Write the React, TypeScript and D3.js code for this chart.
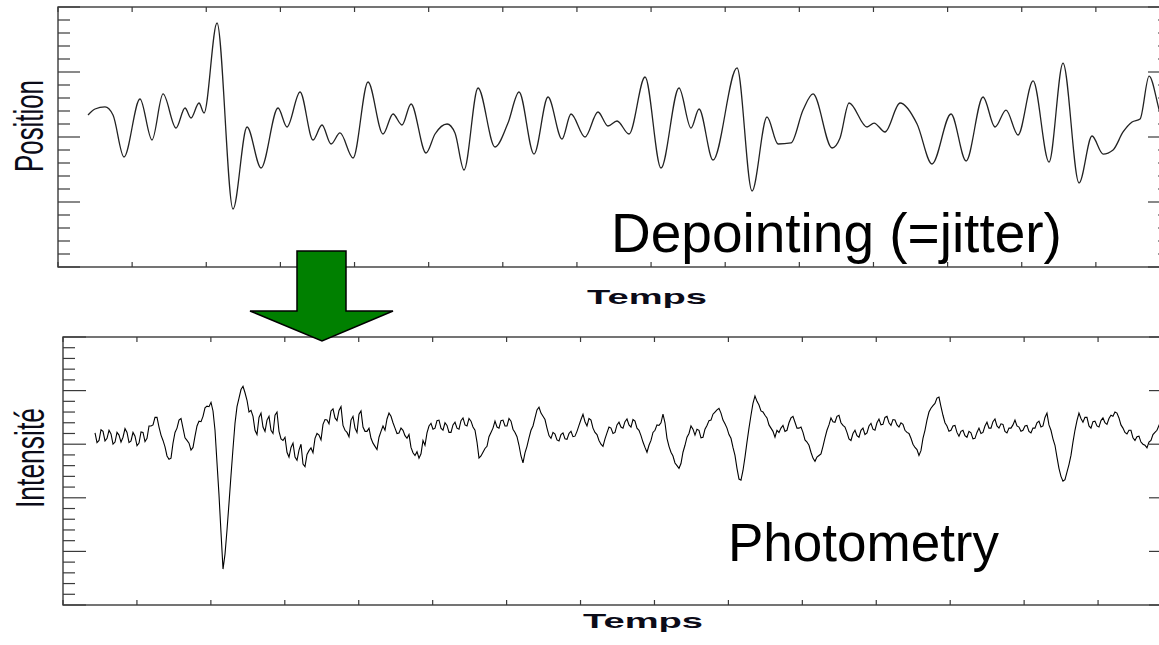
import React from "react";
import * as d3 from "d3";

// ---------- Data ----------
const TIME_DOMAIN: [number, number] = [0, 15];
const TIME_TICKS = d3.range(0, 16, 1);

// Depointing (position) — time and value
const POS_TIME = [
  0.405, 0.499, 0.634, 0.742, 0.89, 1.106, 1.268, 1.417, 1.592, 1.713, 1.794, 1.902, 1.97, 2.145, 2.361,
  2.55, 2.739, 2.968, 3.089, 3.265, 3.44, 3.561, 3.683, 3.804, 3.98, 4.182, 4.384, 4.519, 4.64, 4.762,
  4.964, 5.086, 5.248, 5.355, 5.477, 5.666, 5.895, 6.07, 6.219, 6.421, 6.61, 6.799, 6.92, 7.109, 7.284,
  7.419, 7.541, 7.703, 7.919, 8.134, 8.377, 8.539, 8.647, 8.836, 9.16, 9.362, 9.564, 9.713, 9.888, 10.05,
  10.185, 10.441, 10.549, 10.671, 10.913, 11.008, 11.156, 11.358, 11.588, 11.79, 12.046, 12.249, 12.478,
  12.64, 12.788, 12.95, 13.153, 13.368, 13.557, 13.773, 13.948, 14.097, 14.232, 14.367, 14.488, 14.596,
  14.718, 14.866, 14.974,
];
const POS_VALUE = [
  0.338, 0.431, 0.462, 0.338, -0.308, 0.585, -0.046, 0.662, 0.138, 0.446, 0.292, 0.523, 0.369, 1.754, -1.108,
  0.154, -0.477, 0.446, 0.154, 0.692, -0.046, 0.185, -0.108, 0.062, -0.323, 0.846, 0.046, 0.354, 0.185, 0.508,
  -0.246, 0.046, 0.2, 0.062, -0.508, 0.754, -0.154, 0.215, 0.692, -0.262, 0.615, -0.031, 0.354, 0.0, 0.385,
  0.169, 0.246, 0.046, 0.923, -0.477, 0.754, 0.138, 0.431, -0.354, 1.062, -0.831, 0.308, -0.108, -0.092, 0.415,
  0.662, -0.169, -0.015, 0.523, 0.154, 0.215, 0.077, 0.523, 0.2, -0.415, 0.354, -0.369, 0.615,
  0.154, 0.415, 0.031, 0.862, -0.385, 1.138, -0.708, 0.015, -0.262, -0.2, 0.077, 0.231, 0.277,
  0.938, 0.369, 0.031,
];

// Photometry (intensity) — uniformly sampled
const INT_START = 0.433;
const INT_STEP = 0.02705;
const INT_VALUE = [
  0.21, 0.03, 0.07, 0.27, 0.24, 0.06, 0.11, 0.26, 0.19, 0.0, 0.04, 0.22, 0.17, 0.04, 0.13, 0.29, 0.22, 0.03, 0.06, 0.22,
  0.15, -0.03, 0.02, 0.23, 0.22, 0.05, 0.11, 0.34, 0.34, 0.36, 0.5, 0.5, 0.32, 0.17, 0.07, -0.05, -0.22, -0.28, -0.26, 0.02,
  0.22, 0.3, 0.45, 0.48, 0.3, 0.12, 0.07, 0.02, -0.11, -0.06, 0.15, 0.34, 0.43, 0.42, 0.52, 0.68, 0.71, 0.7, 0.78, 0.62,
  0.26, -0.35, -0.95, -1.65, -2.33, -2.05, -1.6, -1.1, -0.58, -0.08, 0.39, 0.7, 0.86, 1.02, 1.08, 0.96, 0.82, 0.6, 0.63, 0.52,
  0.26, 0.18, 0.5, 0.58, 0.32, 0.24, 0.45, 0.52, 0.26, 0.2, 0.54, 0.6, 0.24, 0.1, 0.07, 0.13, -0.15, -0.24, -0.06, 0.02,
  -0.24, -0.3, -0.11, 0.0, -0.37, -0.42, -0.19, -0.12, -0.07, -0.16, 0.11, 0.2, 0.17, 0.08, 0.37, 0.46, 0.45, 0.38, 0.62, 0.66,
  0.49, 0.44, 0.63, 0.7, 0.35, 0.26, 0.22, 0.14, 0.45, 0.52, 0.3, 0.22, 0.56, 0.62, 0.32, 0.24, 0.24, 0.3, 0.11, 0.02,
  -0.04, -0.1, 0.13, 0.24, 0.34, 0.26, 0.47, 0.58, 0.52, 0.4, 0.3, 0.2, 0.21, 0.3, 0.26, 0.16, 0.11, 0.18, -0.06, -0.16,
  -0.21, -0.14, -0.26, -0.18, 0.07, -0.02, 0.21, 0.34, 0.39, 0.28, 0.3, 0.44, 0.45, 0.3, 0.26, 0.4, 0.35, 0.22, 0.22, 0.36,
  0.41, 0.3, 0.28, 0.44, 0.49, 0.36, 0.34, 0.48, 0.43, 0.32, 0.26, 0.04, -0.26, -0.22, -0.15, -0.08, -0.04, 0.14, 0.22, 0.3,
  0.43, 0.32, 0.3, 0.44, 0.45, 0.34, 0.34, 0.48, 0.43, 0.28, 0.22, 0.14, -0.02, -0.22, -0.35, -0.16, -0.04, 0.12, 0.26, 0.34,
  0.49, 0.64, 0.69, 0.58, 0.52, 0.46, 0.3, 0.16, 0.11, 0.22, 0.19, 0.08, 0.06, 0.18, 0.21, 0.1, 0.09, 0.2, 0.24, 0.14,
  0.15, 0.24, 0.35, 0.46, 0.56, 0.42, 0.34, 0.48, 0.45, 0.3, 0.22, 0.18, 0.07, 0.0, -0.04, 0.1, 0.21, 0.32, 0.3, 0.2,
  0.22, 0.36, 0.41, 0.32, 0.3, 0.42, 0.47, 0.36, 0.32, 0.46, 0.43, 0.3, 0.26, 0.16, 0.04, -0.06, -0.15, -0.02, 0.07, 0.22,
  0.26, 0.36, 0.35, 0.4, 0.56, 0.4, 0.11, -0.04, -0.15, -0.22, -0.35, -0.4, -0.45, -0.36, -0.15, -0.02, 0.13, 0.2, 0.34, 0.28,
  0.17, 0.28, 0.26, 0.12, 0.13, 0.28, 0.35, 0.44, 0.45, 0.56, 0.6, 0.64, 0.67, 0.58, 0.45, 0.38, 0.3, 0.18, 0.11, -0.06,
  -0.21, -0.45, -0.65, -0.67, -0.49, -0.24, 0.04, 0.3, 0.54, 0.76, 0.9, 0.8, 0.73, 0.62, 0.6, 0.54, 0.49, 0.36, 0.3, 0.24,
  0.13, 0.26, 0.22, 0.3, 0.35, 0.24, 0.26, 0.4, 0.49, 0.52, 0.41, 0.3, 0.3, 0.32, 0.22, 0.08, 0.04, -0.02, -0.15, -0.26,
  -0.32, -0.24, -0.21, -0.18, -0.04, 0.12, 0.26, 0.36, 0.49, 0.42, 0.41, 0.52, 0.54, 0.4, 0.35, 0.32, 0.22, 0.1, 0.07, 0.2,
  0.26, 0.16, 0.13, 0.26, 0.3, 0.18, 0.21, 0.34, 0.39, 0.28, 0.26, 0.4, 0.47, 0.36, 0.37, 0.5, 0.52, 0.4, 0.35, 0.46,
  0.45, 0.36, 0.32, 0.4, 0.37, 0.26, 0.22, 0.2, 0.11, 0.0, -0.06, -0.1, -0.21, -0.12, 0.11, 0.26, 0.45, 0.6, 0.67, 0.72,
  0.76, 0.86, 0.88, 0.7, 0.54, 0.4, 0.34, 0.24, 0.26, 0.34, 0.35, 0.22, 0.15, 0.24, 0.26, 0.16, 0.13, 0.24, 0.21, 0.1,
  0.11, 0.22, 0.3, 0.2, 0.22, 0.34, 0.41, 0.3, 0.3, 0.42, 0.47, 0.34, 0.3, 0.38, 0.37, 0.24, 0.21, 0.3, 0.3, 0.36,
  0.45, 0.34, 0.32, 0.24, 0.26, 0.34, 0.35, 0.24, 0.21, 0.3, 0.3, 0.4, 0.43, 0.32, 0.34, 0.5, 0.58, 0.36, 0.26, 0.1,
  -0.02, -0.24, -0.45, -0.6, -0.69, -0.66, -0.52, -0.38, -0.21, 0.04, 0.26, 0.44, 0.58, 0.48, 0.41, 0.5, 0.5, 0.34, 0.3, 0.42,
  0.43, 0.34, 0.32, 0.44, 0.49, 0.4, 0.37, 0.48, 0.54, 0.52, 0.6, 0.58, 0.49, 0.36, 0.3, 0.22, 0.19, 0.26, 0.26, 0.12,
  0.07, 0.14, 0.15, 0.04, 0.0, -0.02, -0.07, 0.04, 0.07, 0.18, 0.22, 0.26, 0.35, 0.44, 0.45, 0.42, 0.54, 0.56, 0.49,
];

const POS_DOMAIN: [number, number] = [-2, 2];
const INT_DOMAIN: [number, number] = [-3, 2];

// ---------- Layout ----------
const W = 1159;
const H = 645;
const FRAME = "#3a3a3a";
const LABEL = "#0b0b18";

type Box = { x0: number; x1: number; y0: number; y1: number };
const TOP_BOX: Box = { x0: 58, x1: 1170, y0: 7, y1: 267 };
const BOT_BOX: Box = { x0: 63, x1: 1172, y0: 337, y1: 605 };

function Frame({
  box,
  y,
  majorLen,
  minorLen,
  id,
}: {
  box: Box;
  y: d3.ScaleLinear<number, number>;
  majorLen: number;
  minorLen: number;
  id: string;
}) {
  const x = d3.scaleLinear().domain(TIME_DOMAIN).range([box.x0, box.x1]);
  const [d0, d1] = y.domain();
  const minor = d3.range(Math.round(d0 * 5), Math.round(d1 * 5) + 1).map((k) => k / 5);
  const isMajor = (v: number) => Math.abs(v - Math.round(v)) < 1e-6;
  return (
    <g>
      <rect
        x={box.x0}
        y={box.y0}
        width={box.x1 - box.x0}
        height={box.y1 - box.y0}
        fill="none"
        stroke={FRAME}
        strokeWidth={1.4}
      />
      {TIME_TICKS.map((t) => (
        <g key={`${id}-xt-${t}`} stroke={FRAME} strokeWidth={1.2}>
          <line x1={x(t)} x2={x(t)} y1={box.y0} y2={box.y0 + 5} />
          <line x1={x(t)} x2={x(t)} y1={box.y1} y2={box.y1 - 5} />
        </g>
      ))}
      {minor.map((v) => {
        const len = isMajor(v) ? majorLen : minorLen;
        return (
          <g key={`${id}-yt-${v}`} stroke={FRAME} strokeWidth={1.2}>
            <line x1={box.x0} x2={box.x0 + len} y1={y(v)} y2={y(v)} />
            <line x1={box.x1} x2={box.x1 - len} y1={y(v)} y2={y(v)} />
          </g>
        );
      })}
    </g>
  );
}

export default function App() {
  const xTop = d3.scaleLinear().domain(TIME_DOMAIN).range([TOP_BOX.x0, TOP_BOX.x1]);
  const yTop = d3.scaleLinear().domain(POS_DOMAIN).range([TOP_BOX.y1, TOP_BOX.y0]);
  const xBot = d3.scaleLinear().domain(TIME_DOMAIN).range([BOT_BOX.x0, BOT_BOX.x1]);
  const yBot = d3.scaleLinear().domain(INT_DOMAIN).range([BOT_BOX.y1, BOT_BOX.y0]);

  const topPts = POS_TIME.map((t, i) => [t, POS_VALUE[i]] as [number, number]);
  const botPts = INT_VALUE.map((v, i) => [INT_START + i * INT_STEP, v] as [number, number]);

  const topLine = d3
    .line<[number, number]>()
    .x((d) => xTop(d[0]))
    .y((d) => yTop(d[1]))
    .curve(d3.curveMonotoneX)(topPts);
  const botLine = d3
    .line<[number, number]>()
    .x((d) => xBot(d[0]))
    .y((d) => yBot(d[1]))(botPts);

  const arrow = [
    [297, 251],
    [346, 251],
    [346, 311],
    [393, 311],
    [322, 341],
    [250, 311],
    [297, 311],
  ]
    .map((p) => p.join(","))
    .join(" ");

  return (
    <svg
      width={W}
      height={H}
      style={{ position: "absolute", left: 0, top: 0, background: "#fff" }}
      fontFamily="'Liberation Sans', Arial, sans-serif"
    >
      <defs>
        <clipPath id="clipTop">
          <rect x={TOP_BOX.x0} y={TOP_BOX.y0} width={TOP_BOX.x1 - TOP_BOX.x0} height={TOP_BOX.y1 - TOP_BOX.y0} />
        </clipPath>
        <clipPath id="clipBot">
          <rect x={BOT_BOX.x0} y={BOT_BOX.y0} width={BOT_BOX.x1 - BOT_BOX.x0} height={BOT_BOX.y1 - BOT_BOX.y0} />
        </clipPath>
      </defs>
      <rect x={0} y={0} width={W} height={H} fill="#fff" />

      {/* Top panel */}
      <Frame box={TOP_BOX} y={yTop} majorLen={22} minorLen={12} id="top" />
      <path d={topLine || ""} fill="none" stroke="#222" strokeWidth={1.3} clipPath="url(#clipTop)" />
      <text
        transform="translate(43,126) rotate(-90)"
        textAnchor="middle"
        fontSize={41}
        textLength={92}
        lengthAdjust="spacingAndGlyphs"
        fill={LABEL}
      >
        Position
      </text>
      <text x={611} y={252} fontSize={55} fill="#000">
        Depointing (=jitter)
      </text>
      <text
        x={647}
        y={304}
        textAnchor="middle"
        fontSize={21}
        fontWeight="bold"
        textLength={120}
        lengthAdjust="spacingAndGlyphs"
        fill={LABEL}
      >
        Temps
      </text>

      {/* Bottom panel */}
      <Frame box={BOT_BOX} y={yBot} majorLen={23} minorLen={12} id="bot" />
      <path d={botLine || ""} fill="none" stroke="#000" strokeWidth={1.1} clipPath="url(#clipBot)" />
      <text
        transform="translate(44,458) rotate(-90)"
        textAnchor="middle"
        fontSize={40}
        textLength={100}
        lengthAdjust="spacingAndGlyphs"
        fill={LABEL}
      >
        Intensité
      </text>
      <text x={728} y={561} fontSize={53} fill="#000">
        Photometry
      </text>
      <text
        x={643}
        y={628}
        textAnchor="middle"
        fontSize={21}
        fontWeight="bold"
        textLength={120}
        lengthAdjust="spacingAndGlyphs"
        fill={LABEL}
      >
        Temps
      </text>

      {/* Arrow */}
      <polygon points={arrow} fill="#008000" stroke="#000" strokeWidth={1.5} strokeLinejoin="miter" />
    </svg>
  );
}
